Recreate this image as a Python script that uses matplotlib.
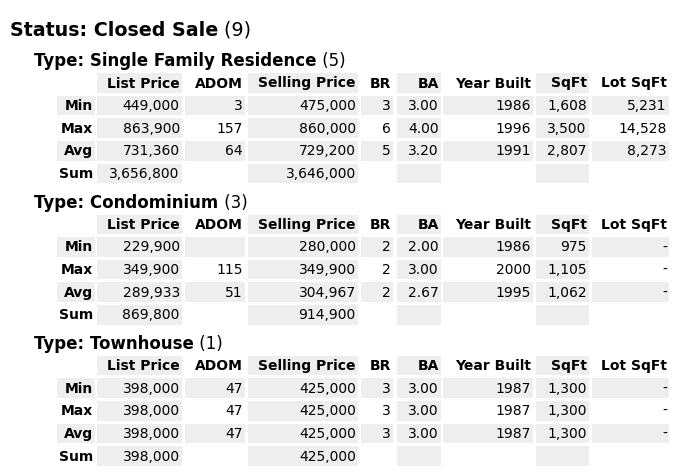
import matplotlib
matplotlib.use("Agg")
import matplotlib.pyplot as plt
from matplotlib.patches import Rectangle

# summary of a property search, status / type / stats
status = "Closed Sale"
status_count = 9

columns = ["List Price", "ADOM", "Selling Price", "BR", "BA", "Year Built", "SqFt", "Lot SqFt"]
stats = ["Min", "Max", "Avg", "Sum"]

# Single Family Residence
sfr_count = 5
sfr_list_price = [449000, 863900, 731360, 3656800]
sfr_adom = [3, 157, 64, None]
sfr_selling_price = [475000, 860000, 729200, 3646000]
sfr_br = [3, 6, 5, None]
sfr_ba = [3.00, 4.00, 3.20, None]
sfr_year_built = [1986, 1996, 1991, None]
sfr_sqft = [1608, 3500, 2807, None]
sfr_lot_sqft = [5231, 14528, 8273, None]

# Condominium
condo_count = 3
condo_list_price = [229900, 349900, 289933, 869800]
condo_adom = [None, 115, 51, None]
condo_selling_price = [280000, 349900, 304967, 914900]
condo_br = [2, 2, 2, None]
condo_ba = [2.00, 3.00, 2.67, None]
condo_year_built = [1986, 2000, 1995, None]
condo_sqft = [975, 1105, 1062, None]
condo_lot_sqft = ["-", "-", "-", None]

# Townhouse
th_count = 1
th_list_price = [398000, 398000, 398000, 398000]
th_adom = [47, 47, 47, None]
th_selling_price = [425000, 425000, 425000, 425000]
th_br = [3, 3, 3, None]
th_ba = [3.00, 3.00, 3.00, None]
th_year_built = [1987, 1987, 1987, None]
th_sqft = [1300, 1300, 1300, None]
th_lot_sqft = ["-", "-", "-", None]

sections = [
    ("Single Family Residence", sfr_count,
     [sfr_list_price, sfr_adom, sfr_selling_price, sfr_br, sfr_ba, sfr_year_built, sfr_sqft, sfr_lot_sqft]),
    ("Condominium", condo_count,
     [condo_list_price, condo_adom, condo_selling_price, condo_br, condo_ba, condo_year_built, condo_sqft, condo_lot_sqft]),
    ("Townhouse", th_count,
     [th_list_price, th_adom, th_selling_price, th_br, th_ba, th_year_built, th_sqft, th_lot_sqft]),
]

col_formats = ["{:,.0f}", "{:,.0f}", "{:,.0f}", "{:.0f}", "{:.2f}", "{:d}", "{:,.0f}", "{:,.0f}"]


def fmt(v, f):
    if v is None:
        return ""
    if isinstance(v, str):
        return v
    return f.format(v)


# layout (pixels)
col_lefts = [57, 97, 185, 248, 361, 397, 443, 536, 592]
col_widths = [38, 85, 60, 110, 32, 44, 90, 53, 77]
row_pitch = 22.6
cell_h = 19.6
first_header_top = 73.2
section_step = 141.3
shade = "#eeeeee"
pad = 2.2
fs = 10.0

fig = plt.figure(figsize=(6.84, 4.73), dpi=100)
ax = fig.add_axes([0, 0, 1, 1])
ax.set_xlim(0, 684)
ax.set_ylim(473, 0)
ax.axis("off")

t = ax.text(9.5, 36, "Status: " + status, fontsize=13.7, fontweight="bold", va="baseline", ha="left")
ax.annotate(" (%d)" % status_count, xy=(1, 0), xycoords=t, fontsize=13.7, va="bottom", ha="left")

for s, (name, count, cols) in enumerate(sections):
    top = first_header_top + s * section_step
    tt = ax.text(34.5, top - 6.8, "Type: " + name, fontsize=12, fontweight="bold", va="baseline", ha="left")
    ax.annotate(" (%d)" % count, xy=(1, 0), xycoords=tt, fontsize=12, va="bottom", ha="left")

    # header row
    for j, label in enumerate(columns):
        x0 = col_lefts[j + 1]
        w = col_widths[j + 1]
        if j % 2 == 0:
            ax.add_patch(Rectangle((x0, top), w, cell_h, color=shade, lw=0))
        ax.text(x0 + w - pad, top + 14.3, label, fontsize=fs, fontweight="bold", ha="right", va="baseline")

    # stat rows
    for i, stat in enumerate(stats):
        y = top + (i + 1) * row_pitch
        striped = i % 2 == 0
        if striped:
            ax.add_patch(Rectangle((col_lefts[0], y), col_widths[0], cell_h, color=shade, lw=0))
        ax.text(col_lefts[0] + col_widths[0] - pad, y + 14.3, stat, fontsize=fs, fontweight="bold",
                ha="right", va="baseline")
        for j in range(len(columns)):
            x0 = col_lefts[j + 1]
            w = col_widths[j + 1]
            if striped or j % 2 == 0:
                ax.add_patch(Rectangle((x0, y), w, cell_h, color=shade, lw=0))
            ax.text(x0 + w - pad, y + 14.3, fmt(cols[j][i], col_formats[j]), fontsize=fs,
                    ha="right", va="baseline")

fig.savefig("out.png", dpi=100)
